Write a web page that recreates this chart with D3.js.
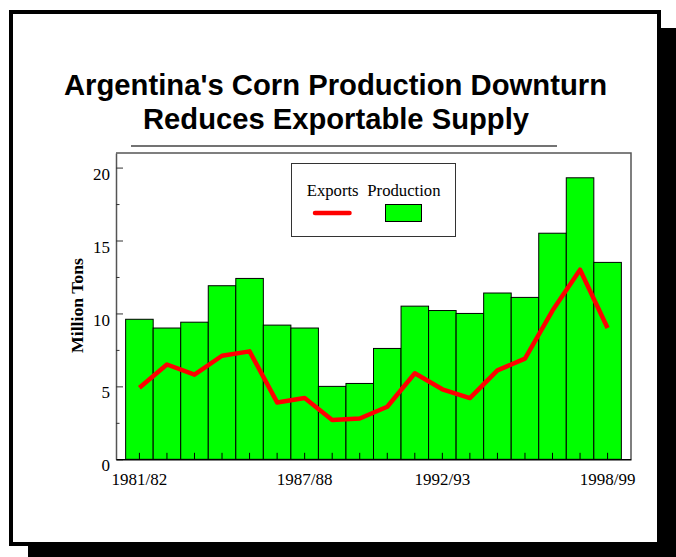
<!DOCTYPE html>
<html>
<head>
<meta charset="utf-8">
<script src="https://cdn.jsdelivr.net/npm/d3@7"></script>
<style>
  body { margin: 0; background: #fff; }
  svg { display: block; }
  .serif { font-family: "Liberation Serif", "Times New Roman", serif; }
</style>
</head>
<body>
<svg width="676" height="557"></svg>
<script>
// crop years, production (bars) and exports (line), million tons
var years = ["1981/82", "1982/83", "1983/84", "1984/85", "1985/86", "1986/87",
             "1987/88", "1988/89", "1989/90", "1990/91", "1991/92", "1992/93",
             "1993/94", "1994/95", "1995/96", "1996/97", "1997/98", "1998/99"];
var production = [9.6, 9.0, 9.4, 11.9, 12.4, 9.2, 9.0, 5.0, 5.2, 7.6, 10.5, 10.2,
                  10.0, 11.4, 11.1, 15.5, 19.3, 13.5];
var exports = [4.9, 6.5, 5.8, 7.1, 7.4, 3.9, 4.2, 2.7, 2.8, 3.6, 5.9, 4.8,
               4.2, 6.1, 6.9, 10.2, 13.0, 9.0];
var xLabels = ["1981/82", "1987/88", "1992/93", "1998/99"];
var yTicks = [0, 5, 10, 15, 20];
var yMinor = [2.5, 7.5, 12.5, 17.5];

var svg = d3.select("svg");

// drop shadow + frame
svg.append("rect").attr("x", 28).attr("y", 28).attr("width", 660).attr("height", 540)
    .attr("fill", "#000");
svg.append("rect").attr("x", 11).attr("y", 12).attr("width", 648).attr("height", 532)
    .attr("fill", "#fff").attr("stroke", "#000").attr("stroke-width", 4);

// title
var title = svg.append("g")
    .style("font-family", "'Liberation Sans', Arial, sans-serif")
    .style("font-weight", "bold").style("font-size", "30px");
title.append("text").attr("x", 335.5).attr("y", 95).attr("text-anchor", "middle")
    .attr("textLength", 543).attr("lengthAdjust", "spacingAndGlyphs")
    .text("Argentina's Corn Production Downturn");
title.append("text").attr("x", 336).attr("y", 128.5).attr("text-anchor", "middle")
    .attr("textLength", 386).attr("lengthAdjust", "spacingAndGlyphs")
    .text("Reduces Exportable Supply");
svg.append("line").attr("x1", 131).attr("x2", 557).attr("y1", 146).attr("y2", 146)
    .attr("stroke", "#444").attr("stroke-width", 1.5);

var x = d3.scaleBand().domain(years).range([116, 631])
    .paddingInner(0).paddingOuter(0.35);
var y = d3.scaleLinear().domain([0, 21]).range([459.3, 153]);

// bars
svg.append("g").selectAll("rect")
    .data(production)
    .enter().append("rect")
    .attr("x", function(d, i) { return x(years[i]); })
    .attr("y", function(d) { return y(d); })
    .attr("width", x.bandwidth())
    .attr("height", function(d) { return y(0) - y(d); })
    .attr("fill", "#00ff00")
    .attr("stroke", "#000").attr("stroke-width", 1);

// plot box top/right
svg.append("path")
    .attr("d", "M116," + y.range()[1] + "H631V" + y(0))
    .attr("fill", "none").attr("stroke", "#555").attr("stroke-width", 1.5);

// y axis (ticks point inward)
var yAxis = svg.append("g").attr("transform", "translate(116,0)")
    .call(d3.axisLeft(y).tickValues(yTicks).tickSize(-7).tickSizeOuter(0).tickPadding(6));
yAxis.select(".domain").attr("stroke", "#555").attr("stroke-width", 1.5);
yAxis.selectAll(".tick line").attr("stroke", "#333");
yAxis.selectAll("text").attr("class", "serif").attr("dy", "0.68em")
    .style("font-size", "17px").attr("fill", "#000");

svg.append("g").attr("transform", "translate(116,0)")
    .call(d3.axisLeft(y).tickValues(yMinor).tickSize(-3.5).tickFormat(""))
    .call(function(g) { g.select(".domain").remove(); })
    .selectAll(".tick line").attr("stroke", "#333");

// x axis
var xAxis = svg.append("g").attr("transform", "translate(0," + y(0) + ")")
    .call(d3.axisBottom(x).tickSize(-6.5).tickSizeOuter(0).tickPadding(13.7)
        .tickFormat(function(d) { return xLabels.indexOf(d) >= 0 ? d : ""; }));
xAxis.select(".domain").attr("stroke", "#000").attr("stroke-width", 1.5);
xAxis.selectAll("text").attr("class", "serif").style("font-size", "17px").attr("fill", "#000");

// exports line
var line = d3.line()
    .x(function(d, i) { return x(years[i]) + x.bandwidth() / 2; })
    .y(function(d) { return y(d); });
svg.append("path").datum(exports)
    .attr("d", line)
    .attr("fill", "none").attr("stroke", "#ff0000").attr("stroke-width", 4.5)
    .attr("stroke-linejoin", "round");

// y title
svg.append("text").attr("class", "serif")
    .attr("transform", "translate(83.3,305.5) rotate(-90)")
    .attr("text-anchor", "middle")
    .style("font-size", "17.7px").style("font-weight", "bold")
    .text("Million Tons");

// legend
var legend = svg.append("g");
legend.append("rect").attr("x", 291.5).attr("y", 163.5).attr("width", 164).attr("height", 73)
    .attr("fill", "#fff").attr("stroke", "#333").attr("stroke-width", 1);
legend.append("text").attr("class", "serif").attr("x", 306.7).attr("y", 195.7)
    .style("font-size", "16.7px").text("Exports");
legend.append("text").attr("class", "serif").attr("x", 367.3).attr("y", 195.7)
    .style("font-size", "16.7px").text("Production");
legend.append("line").attr("x1", 315).attr("x2", 349.5).attr("y1", 213).attr("y2", 213)
    .attr("stroke", "#ff0000").attr("stroke-width", 4.5).attr("stroke-linecap", "round");
legend.append("rect").attr("x", 385.5).attr("y", 204.5).attr("width", 36).attr("height", 17)
    .attr("fill", "#00ff00").attr("stroke", "#000").attr("stroke-width", 1);
</script>
</body>
</html>
